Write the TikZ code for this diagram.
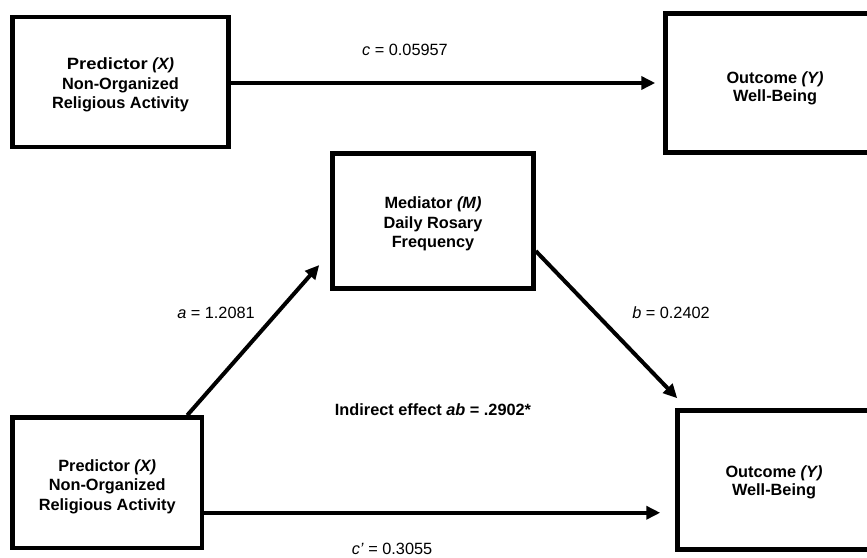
\documentclass[tikz,border=0pt]{standalone}
\usepackage{graphicx}
\usepackage{fontspec}
\setmainfont{Liberation Sans}
\usetikzlibrary{arrows.meta,calc}

\tikzset{
  varbox/.style={draw=black, line width=4.5pt, fill=white, inner sep=0pt},
  boxtext/.style={inner sep=0pt, align=center,
    font=\fontsize{16.3pt}{19.5pt}\selectfont\bfseries},
  path arrow/.style={draw=black, line width=4pt,
    -{Triangle[length=14pt,width=13pt]}},
  coef/.style={inner sep=0pt, font=\fontsize{16.3pt}{19.5pt}\selectfont}
}

\begin{document}
\begin{tikzpicture}[x=1pt,y=-1pt]
  \useasboundingbox (0,0) rectangle (867,557);
  \clip (0,0) rectangle (867,557);

  % Total effect model
  \node[varbox, minimum width=216pt, minimum height=130pt] (tx) at (120.5,82) {};
  \node[boxtext] (txt) at ($(tx)+(0,3)$)
    {\scalebox{1.13}[1]{Predictor} \textit{(X)}\\Non-Organized\\Religious Activity};
  \node[varbox, minimum width=219pt, minimum height=139pt] (ty) at (775,83) {};
  \node[boxtext, font=\fontsize{16.3pt}{18pt}\selectfont\bfseries] (tyt) at ($(ty)+(0,5)$)
    {Outcome \textit{(Y)}\\Well-Being};
  \draw[path arrow, shorten >=8pt] (tx.east |- 0,83) -- (ty.west |- 0,83);
  \node[coef] (lc) at (405,50) {\textit{c} = 0.05957};

  % Mediation model
  \node[varbox, minimum width=201pt, minimum height=135pt] (mm) at (433,221) {};
  \node[boxtext] (mmt) at ($(mm)+(0,3)$)
    {Mediator \textit{(M)}\\Daily Rosary\\Frequency};
  \node[varbox, minimum width=189.5pt, minimum height=130.5pt] (mx) at (107.25,482.75) {};
  \node[boxtext] (mxt) at ($(mx)+(0,4)$)
    {Predictor \textit{(X)}\\Non-Organized\\Religious Activity};
  \node[varbox, minimum width=193pt, minimum height=139pt] (my) at (774,480) {};
  \node[boxtext, font=\fontsize{16.3pt}{18pt}\selectfont\bfseries] (myt) at ($(my)+(0,2)$)
    {Outcome \textit{(Y)}\\Well-Being};

  \coordinate (astart) at ($(mx.north east)+(-17,0)$);
  \coordinate (aend) at ($(mm.west)+(-11,44)$);
  \draw[path arrow] (astart) -- (aend);

  \coordinate (bstart) at ($(mm.east)+(0,30)$);
  \coordinate (bend) at ($(my.north west)+(2,-10)$);
  \draw[path arrow] (bstart) -- (bend);

  \coordinate (cpstart) at ($(mx.east)+(0,30)$);
  \draw[path arrow, shorten >=15pt] (cpstart) -- (cpstart -| my.west);

  \node[coef] (la) at (216,313) {\textit{a} = 1.2081};
  \node[coef] (lb) at (671,313) {\textit{b} = 0.2402};
  \node[coef, font=\fontsize{16.3pt}{19.5pt}\selectfont\bfseries] (lab) at (433,410)
    {Indirect effect \textit{ab} = .2902*};
  \node[coef] (lcp) at (392,548.5) {\textit{c’} = 0.3055};
\end{tikzpicture}
\end{document}
